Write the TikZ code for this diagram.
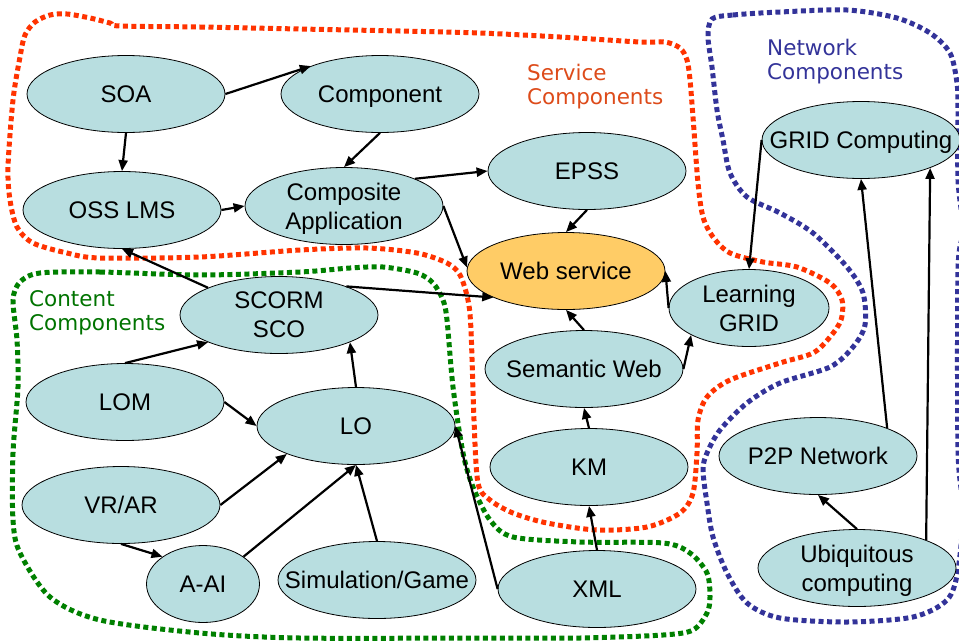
\documentclass[tikz,border=0pt]{standalone}
\usepackage{fontspec}
\setmainfont{Liberation Sans}
\newfontfamily\tagfont{DejaVu Sans}
\usetikzlibrary{shapes.geometric,arrows.meta}
\definecolor{nodefill}{RGB}{184,222,224}
\definecolor{hubfill}{RGB}{255,204,102}
\definecolor{svcred}{RGB}{255,51,0}
\definecolor{svctext}{RGB}{221,75,26}
\definecolor{cntgreen}{RGB}{0,128,0}
\definecolor{cnttext}{RGB}{0,115,0}
\definecolor{netblue}{RGB}{51,51,153}
\begin{document}
\begin{tikzpicture}[x=1pt,y=-1pt,
  blob/.style={ellipse, draw=black, line width=0.8pt, fill=nodefill,
    minimum width=198pt, minimum height=77pt, inner sep=0pt},
  txt/.style={font=\fontsize{24}{28.8}\selectfont, align=center, inner sep=0pt, text depth=0pt},
  zone/.style={line width=5pt, dash pattern=on 5pt off 3.5pt},
  tag/.style={font=\tagfont\fontsize{21.5}{24.5}\selectfont, anchor=base west, inner sep=0pt},
  link/.style={line width=2.2pt, -{Triangle[length=11pt,width=9pt]}}
]
\useasboundingbox (0,0) rectangle (959,641);

% group outlines
\draw[zone, svcred] plot[smooth cycle, tension=0.5] coordinates {
  (120,26) (200,27) (300,29) (400,31) (480,33) (560,37) (640,42) (665,42)
  (680,48) (687,60) (690,80) (693,117) (698,183) (703,217) (713,237)
  (730,253) (763,262) (797,267) (830,283) (842,300) (841,320) (830,337)
  (813,353) (780,363) (730,380) (707,397) (698,420) (697,453) (693,493)
  (680,513) (647,527) (597,530) (547,523) (513,513) (490,500) (478,483)
  (474,420) (471,330) (468,300) (460,275) (447,263) (417,253) (367,248)
  (300,250) (200,257) (100,258) (67,253) (33,243) (17,227) (10,200)
  (8,167) (13,100) (20,57) (25,35) (35,22) (50,15) (67,14) (90,18) (110,23)};
\draw[zone, cntgreen] plot[smooth cycle, tension=0.5] coordinates {
  (40,273) (100,272) (200,275) (300,272) (350,268) (383,267) (417,273)
  (433,283) (443,300) (447,320) (453,387) (463,453) (473,487) (490,520)
  (513,537) (580,542) (663,543) (690,553) (707,573) (710,597) (707,613)
  (693,630) (663,635) (580,638) (480,638) (300,638) (200,633) (100,620)
  (50,597) (20,553) (13,520) (13,453) (18,387) (17,340) (13,300) (20,282)};
\draw[zone, netblue] plot[smooth cycle, tension=0.5] coordinates {
  (712,19) (733,15) (780,12) (847,10) (897,18) (930,33) (950,53) (957,83)
  (958,110) (958,180) (963,230) (958,270) (958,450) (963,510) (958,570)
  (947,600) (913,617) (847,622) (780,618) (747,603) (727,573) (713,537)
  (707,503) (703,470) (707,453) (720,430) (747,403) (780,383) (830,367)
  (853,347) (865,325) (863,293) (847,267) (813,233) (780,213) (747,197)
  (730,173) (723,140) (717,110) (712,67) (708,37)};

% group titles
\node[tag, text=svctext] (svcA) at (527,80) {Service};
\node[tag, text=svctext] (svcB) at (527,104) {Components};
\node[tag, text=netblue] (netA) at (767,55) {Network};
\node[tag, text=netblue] (netB) at (767,79) {Components};
\node[tag, text=cnttext] (cntA) at (29,306) {Content};
\node[tag, text=cnttext] (cntB) at (29,330) {Components};

% concepts
\node[blob, label={[txt]center:SOA}] (soa) at (126,94) {};
\node[blob, label={[txt]center:Component}] (comp) at (380,94) {};
\node[blob, label={[txt]center:OSS LMS}] (oss) at (122,210) {};
\node[blob, label={[txt]center:{Composite\\Application}}] (cmp) at (344,206) {};
\node[blob, label={[txt]center:EPSS}] (epss) at (587,171) {};
\node[blob, fill=hubfill, label={[txt]center:Web service}] (ws) at (566,271) {};
\node[blob, minimum width=160pt, label={[txt]center:{Learning\\GRID}}] (lg) at (749,308) {};
\node[blob, label={[txt]center:GRID Computing}] (grid) at (861,140) {};
\node[blob, label={[txt]center:{SCORM\\SCO}}] (scorm) at (279,315) {};
\node[blob, label={[txt]center:Semantic Web}] (sw) at (584,369) {};
\node[blob, label={[txt]center:LOM}] (lom) at (125,402) {};
\node[blob, label={[txt]center:LO}] (lo) at (356,426) {};
\node[blob, label={[txt]center:VR/AR}] (vr) at (121,505) {};
\node[blob, minimum width=113pt, label={[txt]center:A-AI}] (aai) at (203,584) {};
\node[blob, label={[txt]center:Simulation/Game}] (sim) at (377,580) {};
\node[blob, label={[txt]center:KM}] (km) at (589,467) {};
\node[blob, label={[txt]center:XML}] (xml) at (597,589) {};
\node[blob, label={[txt]center:P2P Network}] (p2p) at (818,456) {};
\node[blob, label={[txt]center:{Ubiquitous\\computing}}] (ubi) at (857,568) {};

% relations
\draw[link] (soa.east) -- (comp.158);
\draw[link] (soa.south) -- (oss.north);
\draw[link] (comp.south) -- (cmp.north);
\draw[link] (oss.east) -- (cmp.west);
\draw[link] (cmp.21) -- (epss.west);
\draw[link] (cmp.east) -- (ws.178);
\draw[link] (epss.south) -- (ws.north);
\draw[link] (scorm.159) -- (oss.south);
\draw[link] (scorm.23) -- (ws.200);
\draw[link] (lg.west) -- (ws.east);
\draw[link] (grid.west) -- (lg.north);
\draw[link] (sw.north) -- (ws.south);
\draw[link] (sw.east) -- (lg.205);
\draw[link] (km.north) -- (sw.south);
\draw[link] (xml.north) -- (km.south);
\draw[link] (xml.west) -- (lo.east);
\draw[link] (lom.north) -- (scorm.201);
\draw[link] (lom.east) -- (lo.west);
\draw[link] (lo.north) -- (scorm.339);
\draw[link] (vr.east) -- (lo.202);
\draw[link] (vr.south) -- (aai.146);
\draw[link] (aai.34) -- (lo.south);
\draw[link] (sim.north) -- (lo.south);
\draw[link] (p2p.22) -- (grid.south);
\draw[link] (ubi.north) -- (p2p.south);
\draw[link] (ubi.22) -- (grid.338);
\end{tikzpicture}
\end{document}
